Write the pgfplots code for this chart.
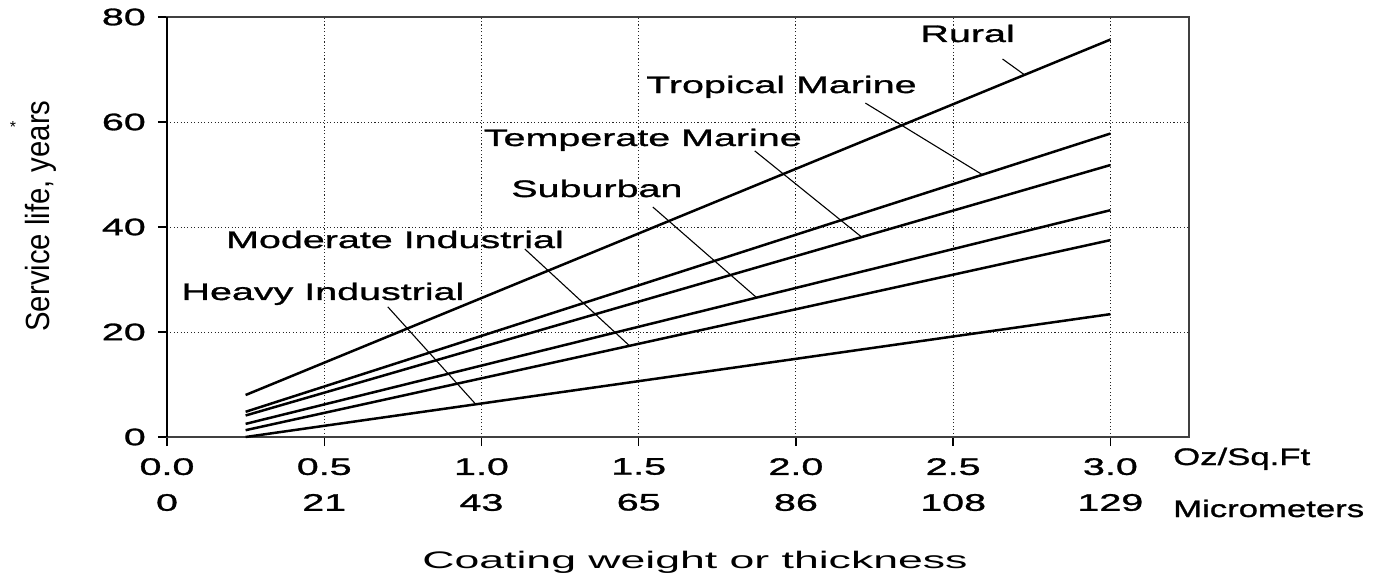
\documentclass[border=0pt]{standalone}
\usepackage{pgfplots}
\pgfplotsset{compat=1.18}
\usepackage{fontspec}
\setmainfont{Liberation Sans}[FakeStretch=1.65, FakeBold=1.2]
\newfontfamily\thinfont{Liberation Sans}[FakeStretch=1.65]
\newfontfamily\plainfont{Liberation Sans}
\newcommand\lab{\fontsize{24}{28}\selectfont}
\begin{document}
\begin{tikzpicture}
\path[use as bounding box] (-167bp,-137bp) rectangle (1229bp,437bp);
\begin{axis}[
  at={(0,0)}, anchor=south west, scale only axis,
  width=1022bp, height=420bp,
  xmin=0, xmax=3.25, ymin=0, ymax=80,
  xtick={0,0.5,1,1.5,2,2.5,3}, ytick={0,20,40,60,80},
  xticklabels={{0.0\\0},{0.5\\21},{1.0\\43},{1.5\\65},{2.0\\86},{2.5\\108},{3.0\\129}},
  /pgf/number format/assume math mode=true,
  xtick pos=bottom, ytick pos=left, tick align=outside, major tick length=9bp,
  xticklabel style={align=center, font=\fontsize{24}{36}\selectfont, inner sep=0pt, anchor=north, yshift=-12bp},
  yticklabel style={font=\fontsize{24}{28}\selectfont, inner sep=0pt, anchor=east, xshift=-12bp},
  grid=major,
  major grid style={black!85, line width=0.9bp, dash pattern=on 1.1bp off 2.3bp},
  axis line style={black!75, line width=1.4bp},
  tick style={black, line width=1.4bp},
  clip=false,
]
\addplot[black, line width=2.5bp] coordinates {(0.25,8.0) (3.0,75.7)};
\addplot[black, line width=2.5bp] coordinates {(0.25,4.8) (3.0,57.8)};
\addplot[black, line width=2.5bp] coordinates {(0.25,4.1) (3.0,51.8)};
\addplot[black, line width=2.5bp] coordinates {(0.25,2.5) (3.0,43.2)};
\addplot[black, line width=2.5bp] coordinates {(0.25,1.3) (3.0,37.5)};
\addplot[black, line width=2.5bp] coordinates {(0.25,0.0) (3.0,23.4)};
% leader lines
\draw[black, line width=1.1bp] (axis cs:2.657,72.0) -- (axis cs:2.727,68.98);
\draw[black, line width=1.1bp] (axis cs:2.221,63.6) -- (axis cs:2.593,49.96);
\draw[black, line width=1.1bp] (axis cs:1.869,54.5) -- (axis cs:2.209,38.08);
\draw[black, line width=1.1bp] (axis cs:1.545,43.8) -- (axis cs:1.875,26.55);
\draw[black, line width=1.1bp] (axis cs:1.138,35.8) -- (axis cs:1.471,17.37);
\draw[black, line width=1.1bp] (axis cs:0.702,24.8) -- (axis cs:0.982,6.23);
% series labels
\node[anchor=base, inner sep=0pt, font=\lab] at (axis cs:2.546,75.24) {Rural};
\node[anchor=base, inner sep=0pt, font=\lab] at (axis cs:1.954,65.52) {Tropical Marine};
\node[anchor=base, inner sep=0pt, font=\lab] at (axis cs:1.513,55.43) {Temperate Marine};
\node[anchor=base, inner sep=0pt, font=\lab] at (axis cs:1.367,45.71) {Suburban};
\node[anchor=base, inner sep=0pt, font=\lab] at (axis cs:0.725,36.0) {Moderate Industrial};
\node[anchor=base, inner sep=0pt, font=\lab] at (axis cs:0.496,26.1) {Heavy Industrial};
\draw[black, line width=2bp] (axis cs:0,0) -- (axis cs:0,80);
\end{axis}
\node[anchor=base west, inner sep=0pt, font=\lab] at (1006bp,-28bp) {\scalebox{0.88}[1]{Oz/Sq.Ft}};
\node[anchor=base west, inner sep=0pt, font=\lab] at (1006bp,-80bp) {\scalebox{0.88}[1]{Micrometers}};
\node[anchor=base, inner sep=0pt] at (528bp,-131bp) {\scalebox{1.13}[1]{\thinfont\lab Coating weight or thickness}};
\node[rotate=90, anchor=base, inner sep=0pt] at (-117bp,221bp) {\scalebox{1.4}[1.6]{\plainfont\fontsize{21}{25}\selectfont Service life, years}};
\node[inner sep=0pt] at (-154bp,310bp) {\plainfont\fontsize{16}{18}\selectfont *};
\end{tikzpicture}
\end{document}
